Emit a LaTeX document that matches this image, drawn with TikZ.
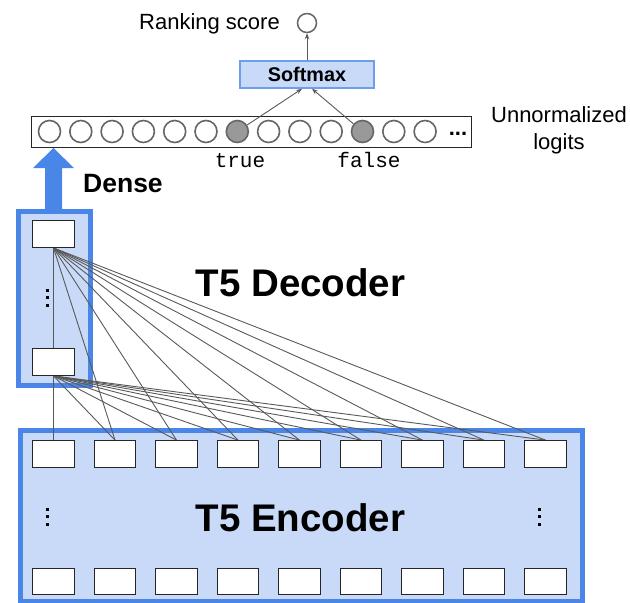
\documentclass[tikz,border=0pt]{standalone}
\usepackage{fontspec}
\setmainfont{Liberation Sans}
\newfontfamily\monof{Liberation Mono}
\usetikzlibrary{arrows.meta,calc}
\definecolor{gblue}{HTML}{4A86E8}
\definecolor{lblue}{HTML}{C9DAF8}
\definecolor{sblue}{HTML}{6D9EEB}
\definecolor{lgray}{HTML}{595959}
\pgfdeclarelayer{back}\pgfdeclarelayer{mid}\pgfsetlayers{back,mid,main}
\begin{document}
\begin{tikzpicture}[x=1pt,y=-1pt,
 cell/.style={draw=black!85,line width=1.3pt,fill=white,minimum width=41.5pt,minimum height=26.5pt,inner sep=0pt},
 logit/.style={circle,draw=black!60,line width=1.6pt,fill=white,minimum size=22pt,inner sep=0pt},
 hot/.style={logit,fill=black!40},
 bigbox/.style={draw=gblue,line width=5pt,fill=lblue,inner sep=0pt},
 link/.style={draw=lgray,line width=0.9pt},
 tip/.style={link,-{Stealth[length=6pt,width=4.5pt]}},
 dotm/.style={fill=black}]
\useasboundingbox (0,0) rectangle (630,603);

% big boxes
\begin{pgfonlayer}{back}
\node[bigbox,minimum width=72pt,minimum height=174pt] (dec) at (54,298) {};
\node[bigbox,minimum width=562pt,minimum height=171pt] (enc) at (301,515.5) {};
\fill[gblue] (45,213) -- (45,168) -- (33,168) -- (53.5,148) -- (74,168) -- (62,168) -- (62,213) -- cycle;
\end{pgfonlayer}

% decoder cells
\node[cell] (dt) at (53.5,234) {};
\node[cell] (db) at (53.5,362) {};
\foreach \y in {290,297.7,305.3} \fill[dotm] (45.5,\y-1.5) rectangle ++(3,3);

% encoder cells
\foreach \i in {0,...,8} {
  \node[cell] (e\i) at (53.5+61.5*\i,454) {};
  \node[cell] (f\i) at (53.5+61.5*\i,581.5) {};
}
\foreach \y in {509.3,516.7,524.3} {
  \fill[dotm] (45.5,\y-1.5) rectangle ++(3,3);
  \fill[dotm] (537.5,\y-1.5) rectangle ++(3,3);
}

% links
\begin{pgfonlayer}{mid}
\draw[link] (dt.south) -- (db.north);
\foreach \i in {1,...,8} \draw[link] (dt.south) -- (e\i.north);
\foreach \i in {0,...,8} \draw[link] (db.south) -- (e\i.north);
\end{pgfonlayer}

% titles
\node[anchor=base,font=\fontsize{38.5pt}{40pt}\selectfont\bfseries,inner sep=0pt] (dect) at (300.5,296) {T5 Decoder};
\node[anchor=base,font=\fontsize{38.5pt}{40pt}\selectfont\bfseries,inner sep=0pt] (enct) at (300.5,531) {T5 Encoder};
\node[anchor=base west,font=\fontsize{26.5pt}{28pt}\selectfont\bfseries,inner sep=0pt] (dense) at (83,192) {Dense};

% logits
\node[draw=black!85,line width=1pt,minimum width=440pt,minimum height=31pt,inner sep=0pt] (logits) at (251,131.5) {};
\foreach \i in {0,...,12} {
  \ifnum\i=6 \node[hot] (l\i) at (49.5+31.3*\i,131.5) {};
  \else\ifnum\i=10 \node[hot] (l\i) at (49.5+31.3*\i,131.5) {};
  \else \node[logit] (l\i) at (49.5+31.3*\i,131.5) {};
  \fi\fi
}
\node[anchor=base,font=\fontsize{22pt}{22pt}\selectfont\bfseries,inner sep=0pt] (more) at (458,135) {...};
\node[anchor=base,font=\fontsize{21pt}{22pt}\selectfont\monof,inner sep=0pt] (ttrue) at (240,167) {true};
\node[anchor=base,font=\fontsize{21pt}{22pt}\selectfont\monof,inner sep=0pt] (tfalse) at (369,167) {false};
\node[align=center,font=\fontsize{22pt}{27pt}\selectfont,inner sep=0pt] (un) at (559,130) {Unnormalized\\logits};

% softmax & score
\node[draw=sblue,line width=1.5pt,fill=lblue,minimum width=134pt,minimum height=27pt,inner sep=0pt,font=\fontsize{19.8pt}{20pt}\selectfont\bfseries] (sm) at (307,74.5) {Softmax};
\node[circle,draw=black!60,line width=1.5pt,fill=white,minimum size=19pt,inner sep=0pt] (rank) at (307,23) {};
\node[anchor=base east,font=\fontsize{22pt}{24pt}\selectfont,inner sep=0pt] (rankt) at (280,29.5) {Ranking score};

\draw[tip] (l6) -- ([xshift=-5pt]sm.south);
\draw[tip] (l10) -- ([xshift=5pt]sm.south);
\draw[tip] (sm) -- (rank);
\end{tikzpicture}
\end{document}
